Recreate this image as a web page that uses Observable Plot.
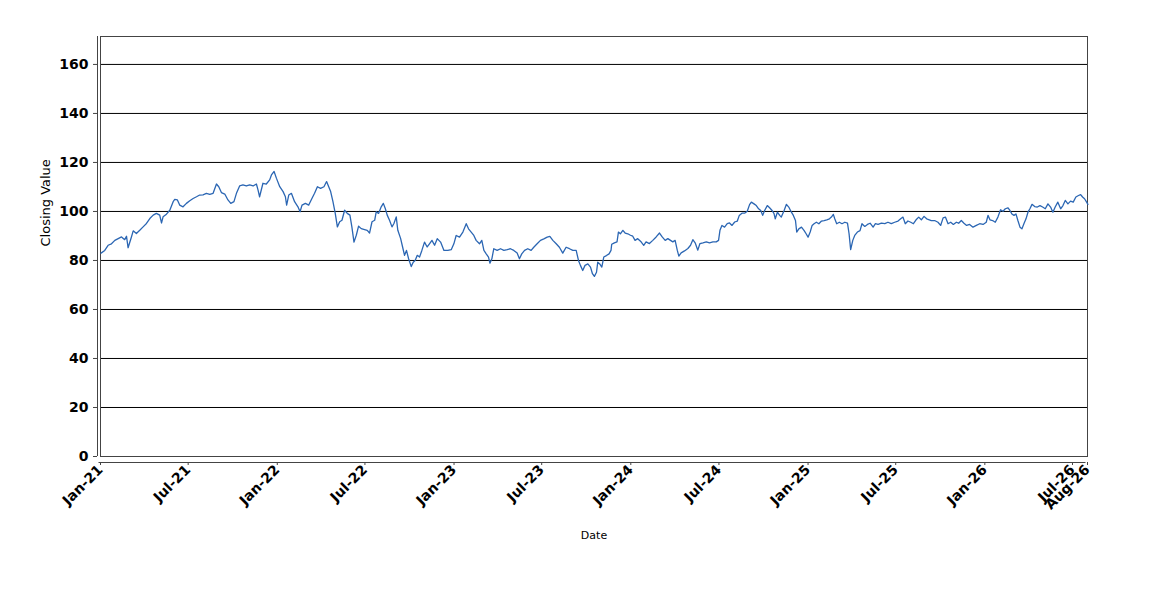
<!DOCTYPE html>
<html>
<head>
<meta charset="utf-8">
<script src="https://cdn.jsdelivr.net/npm/d3@7"></script>
<script src="https://cdn.jsdelivr.net/npm/@observablehq/plot@0.6"></script>
<style>
  html, body { margin: 0; padding: 0; background: #fff; }
  #chart svg { display: block; }
</style>
</head>
<body>
<div id="chart"></div>
<script>
// Time as decimal years
const times = [
2021.003,2021.024,2021.043,2021.062,2021.081,2021.100,2021.119,2021.137,2021.147,2021.156,
2021.175,2021.185,2021.203,2021.222,2021.241,2021.260,2021.279,2021.298,2021.316,2021.335,
2021.345,2021.354,2021.373,2021.392,2021.411,2021.420,2021.435,2021.448,2021.467,2021.486,
2021.505,2021.524,2021.543,2021.561,2021.580,2021.599,2021.618,2021.637,2021.656,2021.669,
2021.684,2021.703,2021.721,2021.737,2021.755,2021.769,2021.787,2021.806,2021.825,2021.844,
2021.863,2021.882,2021.891,2021.900,2021.919,2021.938,2021.957,2021.967,2021.982,2021.995,
2022.014,2022.033,2022.046,2022.053,2022.065,2022.080,2022.098,2022.117,2022.129,2022.140,
2022.159,2022.178,2022.196,2022.211,2022.227,2022.245,2022.264,2022.279,2022.291,2022.302,
2022.315,2022.328,2022.340,2022.353,2022.366,2022.381,2022.396,2022.411,2022.422,2022.434,
2022.447,2022.460,2022.475,2022.494,2022.509,2022.522,2022.536,2022.551,2022.560,2022.573,
2022.588,2022.600,2022.611,2022.622,2022.635,2022.649,2022.660,2022.673,2022.682,2022.698,
2022.709,2022.720,2022.731,2022.743,2022.758,2022.769,2022.780,2022.792,2022.805,2022.818,
2022.833,2022.848,2022.861,2022.875,2022.890,2022.905,2022.924,
2022.943,2022.965,2022.984,2022.999,2023.012,2023.031,2023.050,2023.069,2023.082,2023.097,
2023.112,2023.125,2023.144,2023.157,2023.169,2023.182,2023.195,2023.203,2023.214,2023.225,
2023.244,2023.263,2023.282,2023.301,2023.319,2023.338,2023.357,2023.370,2023.383,2023.399,
2023.417,2023.436,2023.451,2023.470,2023.489,2023.508,2023.527,2023.542,2023.559,2023.578,
2023.596,2023.615,2023.634,2023.653,2023.672,2023.691,2023.704,2023.715,2023.728,2023.741,
2023.757,2023.772,2023.783,2023.794,2023.806,2023.813,2023.824,2023.836,2023.847,2023.862,
2023.877,2023.888,
2023.892,2023.907,2023.922,2023.930,2023.941,2023.955,2023.968,2023.983,2023.998,2024.011,
2024.024,2024.039,2024.058,2024.073,2024.086,2024.105,2024.124,2024.143,2024.162,2024.177,
2024.194,2024.209,2024.224,2024.237,2024.250,2024.262,2024.271,2024.284,2024.303,2024.322,
2024.337,2024.350,2024.363,2024.378,2024.390,2024.407,2024.426,2024.444,2024.463,2024.482,
2024.495,2024.503,2024.514,2024.529,2024.544,2024.557,2024.571,2024.586,2024.601,2024.612,
2024.627,2024.642,2024.657,2024.670,2024.680,2024.695,2024.708,2024.721,2024.733,2024.744,
2024.755,2024.770,2024.783,2024.797,2024.808,2024.815,2024.827,2024.840,2024.849,
2024.865,2024.878,2024.891,2024.906,2024.917,2024.929,2024.936,2024.948,2024.963,2024.978,
2024.989,2025.000,2025.012,2025.023,2025.034,2025.047,2025.061,2025.076,2025.091,2025.106,
2025.121,2025.132,2025.143,2025.151,2025.162,2025.177,2025.192,2025.208,2025.223,2025.232,
2025.241,2025.253,2025.264,2025.279,2025.294,2025.305,2025.321,2025.336,2025.351,2025.368,
2025.381,2025.396,2025.415,2025.434,2025.452,2025.471,2025.490,2025.509,2025.524,2025.537,
2025.550,2025.565,2025.581,2025.596,2025.611,2025.626,2025.641,2025.656,2025.671,2025.686,
2025.697,
2025.716,2025.735,2025.750,2025.764,2025.777,2025.792,2025.807,2025.822,2025.839,2025.852,
2025.867,2025.882,2025.897,2025.914,2025.933,2025.952,2025.971,2025.990,2026.008,2026.018,
2026.029,2026.044,2026.059,2026.074,2026.089,2026.103,2026.116,2026.131,2026.142,2026.153,
2026.165,2026.176,2026.187,2026.199,2026.210,2026.221,2026.233,2026.244,2026.255,2026.267,
2026.282,2026.297,2026.312,2026.327,2026.342,2026.357,2026.372,2026.385,2026.398,2026.413,
2026.429,2026.442,2026.455,2026.470,2026.485,2026.500,2026.515,2026.530,2026.542,2026.553,
2026.564,2026.576,2026.583
];

// Closing values
const closes = [
83.0,84.1,86.2,86.8,88.2,88.9,89.6,88.5,89.9,85.2,
89.6,92.1,91.0,92.3,93.7,95.1,97.1,98.5,99.2,98.5,
95.3,97.8,98.9,100.5,104.0,104.9,104.7,102.6,101.9,103.3,
104.4,105.3,106.0,106.7,106.8,107.4,107.0,107.4,111.2,110.1,
107.7,107.1,104.7,103.3,104.0,107.4,110.4,110.8,110.4,110.8,
110.4,111.2,108.8,106.0,111.5,111.2,112.9,114.9,116.3,113.6,
110.1,108.1,106.0,102.6,106.7,107.4,104.0,101.9,99.9,102.6,
103.3,102.6,105.3,107.4,110.1,109.4,110.1,112.2,110.1,108.1,
104.0,99.2,93.7,95.8,96.4,100.5,99.2,98.5,93.7,87.5,
90.3,94.0,93.0,92.6,92.3,91.2,95.8,96.4,99.9,99.2,
101.9,103.3,101.2,98.5,96.4,93.7,95.1,97.8,92.3,88.9,
85.5,82.1,84.1,80.7,77.5,79.3,80.0,82.1,81.4,84.1,
87.5,85.5,86.8,88.2,86.2,88.9,87.5,
84.1,84.1,84.4,86.8,90.2,89.5,91.6,95.0,92.9,91.6,
90.2,88.2,86.8,88.2,84.1,82.7,81.4,78.9,80.7,84.8,
84.1,84.8,84.1,84.4,84.8,84.1,83.0,80.7,82.7,84.1,
84.8,84.1,85.4,86.8,88.2,88.8,89.5,89.8,88.2,86.8,
85.4,83.0,85.4,84.8,84.1,84.1,80.0,78.0,75.9,78.0,
78.6,77.3,74.6,73.5,75.2,79.3,78.6,77.3,81.4,82.0,
82.7,84.1,
86.6,87.2,87.6,91.6,90.9,92.3,91.2,90.9,90.3,89.9,
88.2,88.9,87.6,86.2,87.6,86.9,88.2,89.6,91.2,89.6,
88.2,88.9,88.2,87.6,88.2,84.2,81.8,83.1,83.9,84.9,
86.2,88.5,87.2,84.2,86.9,87.2,87.6,87.2,87.6,87.6,
88.2,92.3,94.3,93.6,95.0,95.3,94.3,95.7,96.1,98.4,
99.3,99.3,100.1,102.8,103.8,103.1,102.4,101.1,100.4,98.4,
100.4,102.4,101.5,100.4,99.1,97.0,99.7,98.4,97.7,
100.4,102.9,101.8,99.7,98.4,96.3,91.6,92.9,93.6,92.2,
90.9,89.5,91.6,94.3,95.0,95.6,95.0,96.1,96.3,96.6,
97.0,97.7,98.8,97.0,95.0,95.6,95.0,95.6,95.2,90.9,
84.4,88.2,90.2,91.6,92.2,95.0,93.9,94.7,95.2,93.6,
95.0,94.7,95.2,95.0,95.6,95.0,95.6,96.1,97.0,97.7,
95.0,96.1,95.6,95.0,96.6,97.7,96.6,98.0,97.0,96.6,
96.3,
96.3,95.6,94.3,97.4,97.7,95.0,95.6,94.7,95.6,95.2,
96.3,95.2,94.3,94.7,93.6,94.3,95.0,94.7,95.6,98.4,
96.6,96.3,95.6,97.7,100.7,100.1,101.1,101.5,100.4,99.0,
98.4,99.0,96.3,93.6,92.9,95.0,97.0,99.7,101.1,102.9,
102.0,101.8,102.4,101.8,101.1,103.1,101.8,99.7,101.8,103.8,
101.1,102.4,104.5,103.1,104.2,103.8,105.9,106.5,106.9,105.9,
105.2,103.8,102.9
];

const xStart = "2021-01-01";
const xEnd = "2026-08-01";
const xTickDates = ["2021-01-01","2021-07-01","2022-01-01","2022-07-01","2023-01-01","2023-07-01",
  "2024-01-01","2024-07-01","2025-01-01","2025-07-01","2026-01-01","2026-07-01","2026-08-01"];
const xTickLabels = ["Jan-21","Jul-21","Jan-22","Jul-22","Jan-23","Jul-23",
  "Jan-24","Jul-24","Jan-25","Jul-25","Jan-26","Jul-26","Aug-26"];
const yTicks = [0,20,40,60,80,100,120,140,160];
const yMax = 171.4;
const xTitle = "Date";
const yTitle = "Closing Value";

function decimalYearToDate(t) {
  const y = Math.floor(t);
  const start = Date.UTC(y, 0, 1), end = Date.UTC(y + 1, 0, 1);
  return new Date(start + (t - y) * (end - start));
}
const parse = s => new Date(s + "T00:00:00Z");

const data = times.map((t, i) => ({date: decimalYearToDate(t), close: closes[i]}));
const tickDates = xTickDates.map(parse);
const labelFor = new Map(tickDates.map((d, i) => [+d, xTickLabels[i]]));

const axisColor = "#444";

const chart = Plot.plot({
  width: 1150,
  height: 600,
  marginLeft: 100,
  marginRight: 63,
  marginTop: 36,
  marginBottom: 144,
  style: {fontFamily: "'DejaVu Sans', sans-serif", fontSize: "14px", color: "#000", background: "#fff"},
  x: {type: "utc", domain: [parse(xStart), parse(xEnd)], axis: null},
  y: {domain: [0, yMax], axis: null},
  marks: [
    Plot.ruleY(yTicks, {stroke: "#000", strokeWidth: 1}),
    Plot.frame({stroke: axisColor, strokeWidth: 1}),
    Plot.line(data, {x: "date", y: "close", stroke: "#2b66b3", strokeWidth: 1.3}),
    // y axis
    Plot.ruleX([parse(xStart)], {dx: -3, stroke: axisColor}),
    Plot.axisY({ticks: yTicks, tickSize: 4, tickPadding: 5, dx: -3, label: null,
      fontSize: 14, fontWeight: "bold", stroke: axisColor, fill: "#000"}),
    // x axis
    Plot.ruleY([0], {dy: 6, dx: -1.5, stroke: axisColor}),
    Plot.axisX({ticks: tickDates, tickFormat: d => labelFor.get(+d), tickRotate: -45,
      tickSize: 3, tickPadding: 2, dy: 6, label: null, fontSize: 14, fontWeight: "bold",
      stroke: axisColor, fill: "#000"}),
    Plot.text([yTitle], {frameAnchor: "left", dx: -55, rotate: -90, fontSize: 13, fill: "#000"}),
    Plot.text([xTitle], {frameAnchor: "bottom", dy: 82, fontSize: 11, fill: "#000"})
  ]
});
document.getElementById("chart").appendChild(chart);
</script>
</body>
</html>
